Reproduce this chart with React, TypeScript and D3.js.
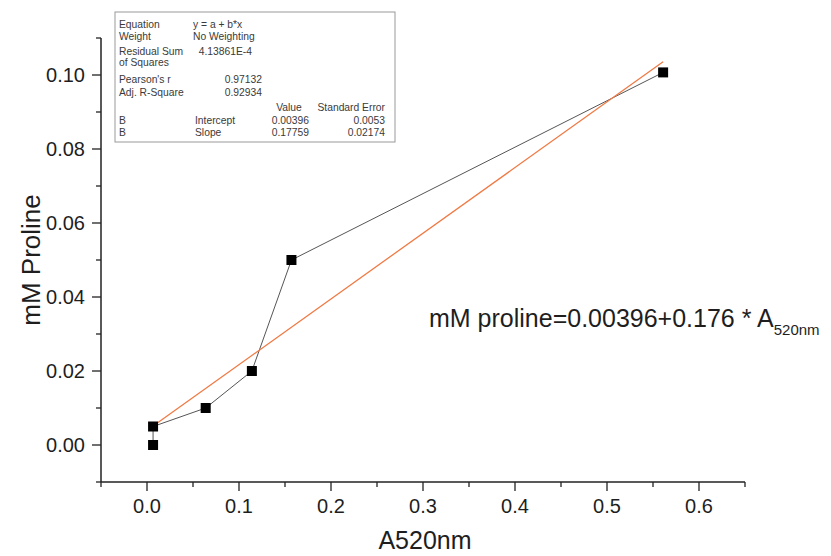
import React from "react";
import * as d3 from "d3";

const absorbance = [0.0066, 0.0066, 0.0638, 0.114, 0.157, 0.561];
const proline = [0.0, 0.005, 0.01, 0.02, 0.05, 0.1007];
const fitIntercept = 0.00396;
const fitSlope = 0.17759;

const xMajor = [0, 0.1, 0.2, 0.3, 0.4, 0.5, 0.6];
const xMinor = [-0.05, 0.05, 0.15, 0.25, 0.35, 0.45, 0.55, 0.65];
const yMajor = [0, 0.02, 0.04, 0.06, 0.08, 0.1];
const yMinor = [-0.01, 0.01, 0.03, 0.05, 0.07, 0.09, 0.11];

const tableLeft = [
  { t: "Equation", y: 24 },
  { t: "Weight", y: 36 },
  { t: "Residual Sum", y: 51 },
  { t: "of Squares", y: 62 },
  { t: "Pearson's r", y: 79 },
  { t: "Adj. R-Square", y: 92 },
  { t: "B", y: 120 },
  { t: "B", y: 132 },
];

const W = 831;
const H = 556;

export default function App() {
  const x = d3.scaleLinear().domain([-0.05, 0.65]).range([101, 745]);
  const y = d3.scaleLinear().domain([-0.01, 0.11]).range([482, 38]);
  const pts = absorbance.map((a, i) => [a, proline[i]] as [number, number]);
  const line = d3
    .line<[number, number]>()
    .x((d) => x(d[0]))
    .y((d) => y(d[1]));
  const xMin = d3.min(absorbance) as number;
  const xMax = d3.max(absorbance) as number;
  const fitPts: [number, number][] = [
    [xMin, fitIntercept + fitSlope * xMin],
    [xMax, fitIntercept + fitSlope * xMax],
  ];
  const font = "'Liberation Sans', Arial, Helvetica, sans-serif";
  const tc = "#1e1e1e";
  const fs = 10.3;
  const tcol = "#3a3a3a";
  return (
    <svg
      width={W}
      height={H}
      style={{ position: "absolute", left: 0, top: 0, background: "#fff" }}
      fontFamily={font}
    >
      <rect x={0} y={0} width={W} height={H} fill="#fff" />
      {/* axes */}
      <line x1={x(-0.05)} x2={x(-0.05)} y1={y(-0.01)} y2={y(0.11)} stroke="#222" strokeWidth={1.5} />
      <line x1={x(-0.05)} x2={x(0.65)} y1={y(-0.01)} y2={y(-0.01)} stroke="#222" strokeWidth={1.5} />
      {xMajor.map((v) => (
        <g key={"xm" + v}>
          <line x1={x(v)} x2={x(v)} y1={y(-0.01)} y2={y(-0.01) + 9} stroke="#222" strokeWidth={1.3} />
          <text x={x(v)} y={y(-0.01) + 31} textAnchor="middle" fontSize={20} fill={tc}>
            {v.toFixed(1)}
          </text>
        </g>
      ))}
      {xMinor.map((v) => (
        <line key={"xn" + v} x1={x(v)} x2={x(v)} y1={y(-0.01)} y2={y(-0.01) + 5} stroke="#222" strokeWidth={1.3} />
      ))}
      {yMajor.map((v) => (
        <g key={"ym" + v}>
          <line x1={x(-0.05) - 9} x2={x(-0.05)} y1={y(v)} y2={y(v)} stroke="#222" strokeWidth={1.3} />
          <text x={x(-0.05) - 16} y={y(v)} dy="0.35em" textAnchor="end" fontSize={20} fill={tc}>
            {v.toFixed(2)}
          </text>
        </g>
      ))}
      {yMinor.map((v) => (
        <line key={"yn" + v} x1={x(-0.05) - 5} x2={x(-0.05)} y1={y(v)} y2={y(v)} stroke="#222" strokeWidth={1.3} />
      ))}
      <text x={425} y={549} textAnchor="middle" fontSize={25} fill={tc}>
        A520nm
      </text>
      <text
        transform={`translate(40, ${(y(-0.01) + y(0.11)) / 2}) rotate(-90)`}
        textAnchor="middle"
        fontSize={26}
        fill={tc}
      >
        mM Proline
      </text>
      {/* data line */}
      <path d={line(pts) || ""} fill="none" stroke="#555" strokeWidth={1} />
      {/* fit */}
      <path d={line(fitPts) || ""} fill="none" stroke="#f07a45" strokeWidth={1.3} />
      {pts.map((p, i) => (
        <rect key={i} x={x(p[0]) - 5} y={y(p[1]) - 5} width={10} height={10} fill="#000" />
      ))}
      {/* equation */}
      <text x={429} y={327} fontSize={25} fill={tc}>
        mM proline=0.00396+0.176 * A
        <tspan fontSize={15} dy={8}>520nm</tspan>
      </text>
      {/* stats table */}
      <rect x={115} y={12} width={280} height={130} fill="#fff" stroke="#999" strokeWidth={1} />
      {tableLeft.map((r, i) => (
        <text key={i} x={119} y={r.y} dy="0.35em" fontSize={fs} fill={tcol}>
          {r.t}
        </text>
      ))}
      <text x={193} y={24} dy="0.35em" fontSize={fs} fill={tcol}>y = a + b*x</text>
      <text x={193} y={36} dy="0.35em" fontSize={fs} fill={tcol}>No Weighting</text>
      <text x={252} y={51} dy="0.35em" fontSize={fs} fill={tcol} textAnchor="end">4.13861E-4</text>
      <text x={262} y={79} dy="0.35em" fontSize={fs} fill={tcol} textAnchor="end">0.97132</text>
      <text x={262} y={92} dy="0.35em" fontSize={fs} fill={tcol} textAnchor="end">0.92934</text>
      <text x={289} y={107} dy="0.35em" fontSize={fs} fill={tcol} textAnchor="middle">Value</text>
      <text x={385} y={107} dy="0.35em" fontSize={fs} fill={tcol} textAnchor="end">Standard Error</text>
      <text x={195} y={120} dy="0.35em" fontSize={fs} fill={tcol}>Intercept</text>
      <text x={195} y={132} dy="0.35em" fontSize={fs} fill={tcol}>Slope</text>
      <text x={309} y={120} dy="0.35em" fontSize={fs} fill={tcol} textAnchor="end">0.00396</text>
      <text x={309} y={132} dy="0.35em" fontSize={fs} fill={tcol} textAnchor="end">0.17759</text>
      <text x={385} y={120} dy="0.35em" fontSize={fs} fill={tcol} textAnchor="end">0.0053</text>
      <text x={385} y={132} dy="0.35em" fontSize={fs} fill={tcol} textAnchor="end">0.02174</text>
    </svg>
  );
}
